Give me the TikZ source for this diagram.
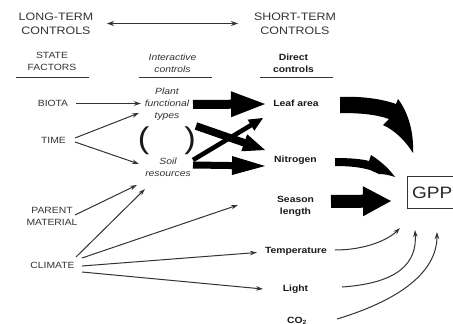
\documentclass[tikz,border=0pt]{standalone}
\usepackage{fontspec}
\setmainfont{Liberation Sans}[FakeStretch=1.15]
\usetikzlibrary{arrows.meta,calc}
\definecolor{ink}{gray}{0.2}
% fat arrow: #1 start, #2 tip, #3 shaft half width, #4 head half width, #5 head length
\newcommand\fatarr[5]{%
  \coordinate (fabase) at ($(#2)!#5!(#1)$);
  \fill[black] ($(#1)!#3!90:(#2)$) -- ($(fabase)!#3!90:(#2)$) -- ($(fabase)!#4!90:(#2)$)
    -- (#2) -- ($(fabase)!#4!-90:(#2)$) -- ($(fabase)!#3!-90:(#2)$) -- ($(#1)!#3!-90:(#2)$) -- cycle;}
\begin{document}
\begin{tikzpicture}[x=1pt,y=-1pt,
  hdr/.style={text=ink,font=\fontsize{10.8}{14}\selectfont,align=center,inner sep=0pt},
  lbl/.style={text=ink,font=\fontsize{9}{12}\selectfont,align=center,inner sep=0pt},
  lblb/.style={lbl,font=\fontsize{9}{12}\selectfont\bfseries,text=black!90},
  lbli/.style={lbl,font=\fontsize{9}{12}\selectfont\itshape},
  conn/.style={draw=ink,line width=1pt,-{Stealth[length=7pt,width=4.5pt]}},
  rule/.style={draw=ink,line width=0.9pt},
  paren/.style={text=black!90,font=\fontsize{30}{30}\selectfont,inner sep=0pt}]
\useasboundingbox (0,0) rectangle (453,324);
\clip (0,0) rectangle (453,324);
\fill[white] (0,0) rectangle (453,324);

% headers
\node[hdr] (long) at (56,23.6) {LONG-TERM\\CONTROLS};
\node[hdr] (short) at (295,23.6) {SHORT-TERM\\CONTROLS};
\coordinate (long-out) at (107,23.5);
\coordinate (short-in) at (238,23.5);
\draw[ink,line width=1pt,{Stealth[length=7pt,width=5pt]}-{Stealth[length=7pt,width=5pt]}] (long-out) -- (short-in);

\node[lbl] (state) at (52,61) {STATE\\FACTORS};
\node[lbli] (inter) at (172.5,63) {Interactive\\controls};
\node[lblb] (direct) at (293.5,63) {Direct\\controls};
\draw[rule] (16,77.3) -- (89,77.3);
\draw[rule] (139,77.3) -- (212,77.3);
\draw[rule] (260,77.3) -- (333,77.3);

% state factors
\node[lbl] (biota) at (53,103.5) {BIOTA};
\node[lbl] (time) at (53.5,140) {TIME};
\node[lbl] (parent) at (52,216.5) {PARENT\\MATERIAL};
\node[lbl] (climate) at (52.5,265) {CLIMATE};

% interactive controls
\node[lbli] (pft) at (167,104) {Plant\\functional\\types};
\node[lbli] (soil) at (168,167.5) {Soil\\resources};
\node[paren] (lp) at (143.5,141) {(};
\node[paren] (rp) at (190,141) {)};

% direct controls
\node[lblb] (leaf) at (296,103.5) {Leaf area};
\node[lblb] (nitro) at (295.5,160) {Nitrogen};
\node[lblb] (season) at (295.5,206) {Season\\length};
\node[lblb] (temp) at (296,251) {Temperature};
\node[lblb] (light) at (295.5,289.5) {Light};
\node[lblb] (co2) at (297,320.5) {CO\textsubscript{2}};

\node[draw=ink,line width=1.1pt,anchor=west,minimum height=31.5pt,minimum width=62pt,
  inner xsep=4pt,align=left,font=\fontsize{16.5}{17}\selectfont,text=black!85] (gpp) at (406.7,192.5) {GPP\hspace{12pt}};

% thin connectors
\coordinate (biota-out) at (76,103.5);  \coordinate (pft-in) at (141,103.5);
\coordinate (time-o1) at (75,138);      \coordinate (pft-in2) at (139,113);
\coordinate (time-o2) at (75,142);      \coordinate (soil-in1) at (139,164);
\coordinate (parent-out) at (75,215);   \coordinate (soil-in2) at (137,185);
\coordinate (clim-o1) at (76,257);      \coordinate (soil-in3) at (145,189);
\coordinate (clim-o2) at (82,258);      \coordinate (season-in) at (238,205);
\coordinate (clim-o3) at (82,266);      \coordinate (temp-in) at (257,252.5);
\coordinate (clim-o4) at (82,272);      \coordinate (light-in) at (263,289);
\draw[conn] (biota-out) -- (pft-in);
\draw[conn] (time-o1) -- (pft-in2);
\draw[conn] (time-o2) -- (soil-in1);
\draw[conn] (parent-out) -- (soil-in2);
\draw[conn] (clim-o1) -- (soil-in3);
\draw[conn] (clim-o2) -- (season-in);
\draw[conn] (clim-o3) -- (temp-in);
\draw[conn] (clim-o4) -- (light-in);

\coordinate (temp-out) at (335,250);   \coordinate (gpp-t) at (400,228);
\coordinate (light-out) at (342,287);  \coordinate (gpp-l) at (415,230);
\coordinate (co2-out) at (337,319);    \coordinate (gpp-c) at (437,232);
\draw[conn] (temp-out) .. controls (365,250) and (388,240) .. (gpp-t);
\draw[conn] (light-out) .. controls (400,283) and (417,262) .. (gpp-l);
\draw[conn] (co2-out) .. controls (400,300) and (437,272) .. (gpp-c);

% fat connectors
\coordinate (pft-o1) at (193,104.5);  \coordinate (leaf-in1) at (265,104);
\coordinate (pft-o2) at (196,126);    \coordinate (nitro-in1) at (265,150);
\coordinate (soil-o1) at (193,160);   \coordinate (leaf-in2) at (263,118);
\coordinate (soil-o2) at (193,165);   \coordinate (nitro-in2) at (265,166);
\coordinate (season-out) at (331,201.5); \coordinate (gpp-s) at (391,201);
\fatarr{pft-o1}{leaf-in1}{4.5pt}{13pt}{34pt}
\fatarr{pft-o2}{nitro-in1}{3.8pt}{9pt}{22pt}
\fatarr{soil-o1}{leaf-in2}{2.3pt}{6.5pt}{14pt}
\fatarr{soil-o2}{nitro-in2}{3.5pt}{9.5pt}{33pt}
\fatarr{season-out}{gpp-s}{6.5pt}{15pt}{28pt}

% curved fat arrows
\fill[black] (340,97) .. controls (362,96) and (382,99) .. (396,104) -- (398,99)
  .. controls (408,112) and (414,132) .. (413,153)
  .. controls (405,140) and (394,130) .. (383,125) -- (389,119)
  .. controls (375,114) and (358,113) .. (340,113) -- cycle;
\fill[black] (335,158) .. controls (350,158) and (362,159) .. (369,161) -- (371,155)
  .. controls (382,162) and (390,170) .. (395,177)
  .. controls (389,175) and (384,174) .. (379,174) -- (370,170)
  .. controls (360,167) and (348,166) .. (335,166) -- cycle;
\end{tikzpicture}
\end{document}
